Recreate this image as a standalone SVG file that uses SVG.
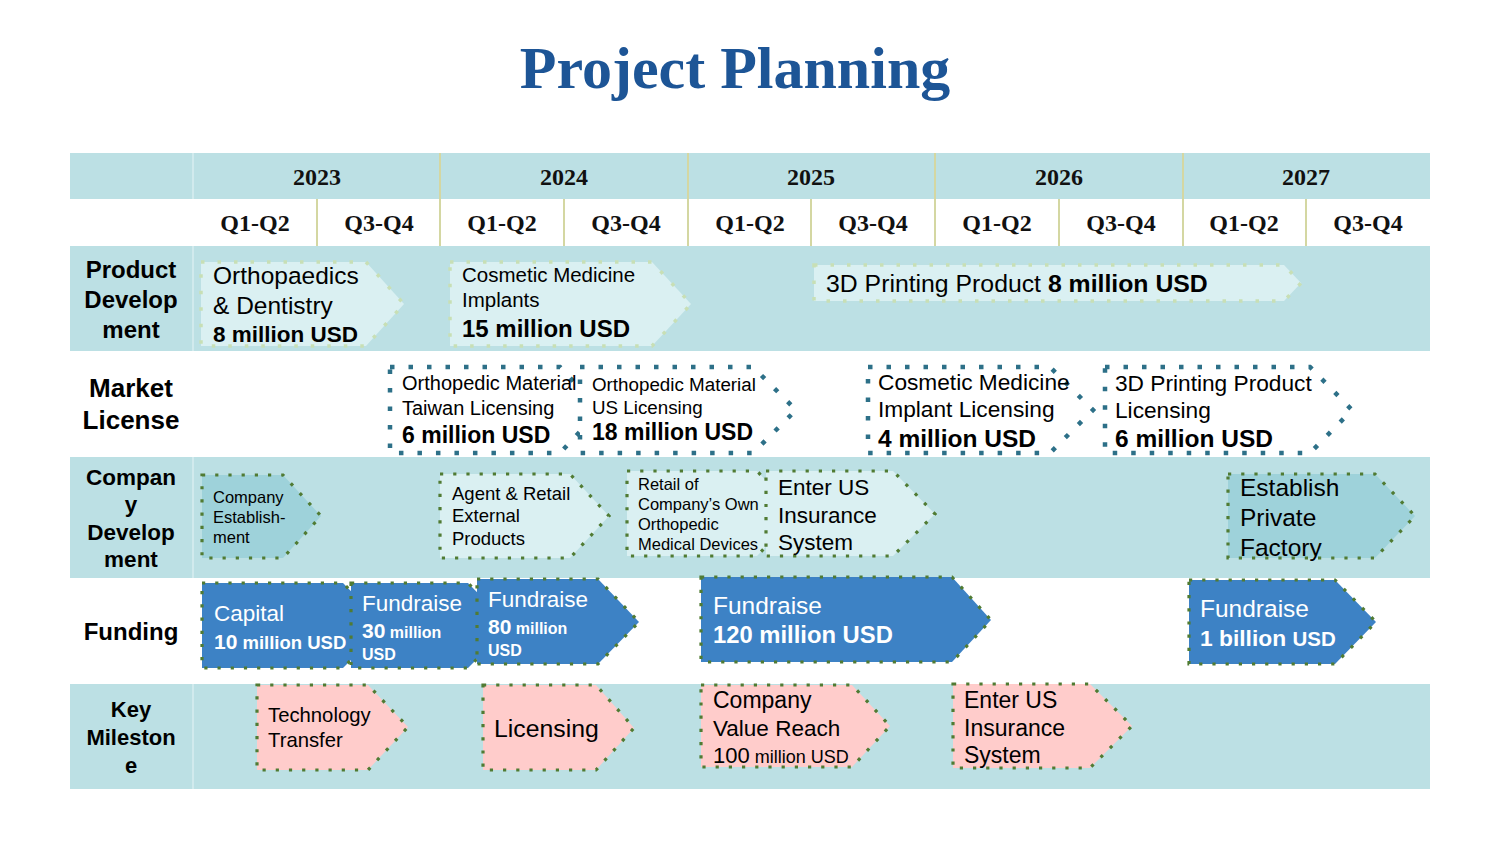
<svg xmlns="http://www.w3.org/2000/svg" width="1500" height="844" viewBox="0 0 1500 844">
  <style>
    .title { font-family: "Liberation Serif", "Times New Roman", serif; font-weight: bold; font-size: 60px; fill: #1D5596; }
    .hdr { font-family: "Liberation Serif", "Times New Roman", serif; font-weight: bold; font-size: 24px; fill: #111; }
    .lbl { font-family: "Liberation Sans", Arial, sans-serif; font-weight: bold; fill: #000; }
    .t { font-family: "Liberation Sans", Arial, sans-serif; fill: #000; }
    .w { font-family: "Liberation Sans", Arial, sans-serif; fill: #fff; }
    .b { font-weight: bold; }
    .band { fill: #BCE0E4; }
    .vdiv { stroke: #D4D7A2; stroke-width: 2; }
    .coldiv { stroke: #D8EEF0; stroke-width: 1.5; }
    .pd { fill: #DAF0F2; stroke: #C8DFB5; stroke-width: 3.5; stroke-dasharray: 3.5 13; }
    .ml { fill: #FFFFFF; stroke: #2D7088; stroke-width: 4.5; stroke-dasharray: 4.5 14; }
    .cdl { fill: #DAF0F2; stroke: #507B33; stroke-width: 3.2; stroke-dasharray: 3.2 10; }
    .cdd { fill: #9ED2DA; stroke: #507B33; stroke-width: 3.2; stroke-dasharray: 3.2 10; }
    .fd { fill: #3D82C5; stroke: #507B33; stroke-width: 3.2; stroke-dasharray: 3.2 10; }
    .km { fill: #FFCCCB; stroke: #507B33; stroke-width: 3.2; stroke-dasharray: 3.2 10; }
  </style>

  <rect x="0" y="0" width="1500" height="844" fill="#FFFFFF"/>

  <text class="title" x="735" y="88" text-anchor="middle">Project Planning</text>

  <!-- table grid -->
  <g id="grid">
    <rect class="band" x="70" y="153" width="1360" height="46"/>
    <rect class="band" x="70" y="246" width="1360" height="105"/>
    <rect class="band" x="70" y="457" width="1360" height="121"/>
    <rect class="band" x="70" y="684" width="1360" height="105"/>
    <line class="coldiv" x1="193" y1="153" x2="193" y2="199"/>
    <line class="coldiv" x1="193" y1="246" x2="193" y2="351"/>
    <line class="coldiv" x1="193" y1="457" x2="193" y2="578"/>
    <line class="coldiv" x1="193" y1="684" x2="193" y2="789"/>
    <line class="vdiv" x1="440" y1="153" x2="440" y2="246"/>
    <line class="vdiv" x1="688" y1="153" x2="688" y2="246"/>
    <line class="vdiv" x1="935" y1="153" x2="935" y2="246"/>
    <line class="vdiv" x1="1183" y1="153" x2="1183" y2="246"/>
    <line class="vdiv" x1="317" y1="199" x2="317" y2="246"/>
    <line class="vdiv" x1="564" y1="199" x2="564" y2="246"/>
    <line class="vdiv" x1="811" y1="199" x2="811" y2="246"/>
    <line class="vdiv" x1="1059" y1="199" x2="1059" y2="246"/>
    <line class="vdiv" x1="1306" y1="199" x2="1306" y2="246"/>
  </g>

  <g id="years">
    <text class="hdr" x="317" y="185" text-anchor="middle">2023</text>
    <text class="hdr" x="564" y="185" text-anchor="middle">2024</text>
    <text class="hdr" x="811" y="185" text-anchor="middle">2025</text>
    <text class="hdr" x="1059" y="185" text-anchor="middle">2026</text>
    <text class="hdr" x="1306" y="185" text-anchor="middle">2027</text>
  </g>
  <g id="halves">
    <text class="hdr" x="255" y="231" text-anchor="middle">Q1-Q2</text>
    <text class="hdr" x="379" y="231" text-anchor="middle">Q3-Q4</text>
    <text class="hdr" x="502" y="231" text-anchor="middle">Q1-Q2</text>
    <text class="hdr" x="626" y="231" text-anchor="middle">Q3-Q4</text>
    <text class="hdr" x="750" y="231" text-anchor="middle">Q1-Q2</text>
    <text class="hdr" x="873" y="231" text-anchor="middle">Q3-Q4</text>
    <text class="hdr" x="997" y="231" text-anchor="middle">Q1-Q2</text>
    <text class="hdr" x="1121" y="231" text-anchor="middle">Q3-Q4</text>
    <text class="hdr" x="1244" y="231" text-anchor="middle">Q1-Q2</text>
    <text class="hdr" x="1368" y="231" text-anchor="middle">Q3-Q4</text>
  </g>

  <!-- row labels -->
  <g id="row-labels" text-anchor="middle">
    <text class="lbl" font-size="24" x="131" y="278">Product</text>
    <text class="lbl" font-size="24" x="131" y="308">Develop</text>
    <text class="lbl" font-size="24" x="131" y="338">ment</text>
    <text class="lbl" font-size="26" x="131" y="397">Market</text>
    <text class="lbl" font-size="26" x="131" y="429">License</text>
    <text class="lbl" font-size="22.5" x="131" y="485">Compan</text>
    <text class="lbl" font-size="22.5" x="131" y="512">y</text>
    <text class="lbl" font-size="22.5" x="131" y="540">Develop</text>
    <text class="lbl" font-size="22.5" x="131" y="567">ment</text>
    <text class="lbl" font-size="24" x="131" y="640">Funding</text>
    <text class="lbl" font-size="22" x="131" y="717">Key</text>
    <text class="lbl" font-size="22" x="131" y="745">Mileston</text>
    <text class="lbl" font-size="22" x="131" y="773">e</text>
  </g>

  <!-- Product development -->
  <g id="pd-ortho">
    <path class="pd" d="M201,262 H366 L404,304 L366,346 H201 Z"/>
    <text class="t" font-size="24.5" x="213" y="284">Orthopaedics</text>
    <text class="t" font-size="24.5" x="213" y="314">&amp; Dentistry</text>
    <text class="t b" font-size="22.5" x="213" y="342">8 million USD</text>
  </g>
  <g id="pd-cosmetic">
    <path class="pd" d="M450,262 H652 L691,304 L652,346 H450 Z"/>
    <text class="t" font-size="20.5" x="462" y="282">Cosmetic Medicine</text>
    <text class="t" font-size="20.5" x="462" y="307">Implants</text>
    <text class="t b" font-size="24" x="462" y="337">15 million USD</text>
  </g>
  <g id="pd-3d">
    <path class="pd" d="M814,265 H1284 L1301,283 L1284,301 H814 Z"/>
    <text class="t" font-size="24.8" x="826" y="292">3D Printing Product <tspan class="b">8 million USD</tspan></text>
  </g>

  <!-- Market license -->
  <g id="ml-tw">
    <path class="ml" d="M390,367 H560 L600,410 L560,453 H390 Z"/>
    <text class="t" font-size="20" x="402" y="390">Orthopedic Material</text>
    <text class="t" font-size="20" x="402" y="415">Taiwan Licensing</text>
    <text class="t b" font-size="23" x="402" y="443">6 million USD</text>
  </g>
  <g id="ml-us">
    <path class="ml" d="M580,367 H753 L796,410 L753,453 H580 Z"/>
    <text class="t" font-size="18.8" x="592" y="391">Orthopedic Material</text>
    <text class="t" font-size="18.8" x="592" y="414">US Licensing</text>
    <text class="t b" font-size="23" x="592" y="440">18 million USD</text>
  </g>
  <g id="ml-cosmetic">
    <path class="ml" d="M868,367 H1050 L1093,410 L1050,453 H868 Z"/>
    <text class="t" font-size="22.7" x="878" y="390">Cosmetic Medicine</text>
    <text class="t" font-size="22.7" x="878" y="417">Implant Licensing</text>
    <text class="t b" font-size="24.5" x="878" y="447">4 million USD</text>
  </g>
  <g id="ml-3d">
    <path class="ml" d="M1105,367 H1310 L1352,410 L1310,453 H1105 Z"/>
    <text class="t" font-size="22.7" x="1115" y="391">3D Printing Product</text>
    <text class="t" font-size="22.7" x="1115" y="418">Licensing</text>
    <text class="t b" font-size="24.5" x="1115" y="447">6 million USD</text>
  </g>

  <!-- Company development -->
  <g id="cd-establish">
    <path class="cdd" d="M202,475 H283 L321,516 L283,558 H202 Z"/>
    <text class="t" font-size="16.5" x="213" y="503">Company</text>
    <text class="t" font-size="16.5" x="213" y="523">Establish-</text>
    <text class="t" font-size="16.5" x="213" y="543">ment</text>
  </g>
  <g id="cd-agent">
    <path class="cdl" d="M440,474 H570 L609,516 L570,558 H440 Z"/>
    <text class="t" font-size="18.5" x="452" y="500">Agent &amp; Retail</text>
    <text class="t" font-size="18.5" x="452" y="522">External</text>
    <text class="t" font-size="18.5" x="452" y="545">Products</text>
  </g>
  <g id="cd-retail">
    <path class="cdl" d="M627,471 H757 L797,514 L757,556 H627 Z"/>
    <text class="t" font-size="16.5" x="638" y="490">Retail of</text>
    <text class="t" font-size="16.5" x="638" y="510">Company’s Own</text>
    <text class="t" font-size="16.5" x="638" y="530">Orthopedic</text>
    <text class="t" font-size="16.5" x="638" y="550">Medical Devices</text>
  </g>
  <g id="cd-insurance">
    <path class="cdl" d="M766,471 H893 L935,514 L893,556 H766 Z"/>
    <text class="t" font-size="22.5" x="778" y="495">Enter US</text>
    <text class="t" font-size="22.5" x="778" y="523">Insurance</text>
    <text class="t" font-size="22.5" x="778" y="550">System</text>
  </g>
  <g id="cd-factory">
    <path class="cdd" d="M1228,474 H1375 L1415,516 L1375,558 H1228 Z"/>
    <text class="t" font-size="24.5" x="1240" y="496">Establish</text>
    <text class="t" font-size="24.5" x="1240" y="526">Private</text>
    <text class="t" font-size="24.5" x="1240" y="556">Factory</text>
  </g>

  <!-- Funding -->
  <g id="fd-capital">
    <path class="fd" d="M202,583 H343 L385,626 L343,668 H202 Z"/>
    <text class="w" font-size="22.5" x="214" y="621">Capital</text>
    <text class="w b" font-size="21" x="214" y="649">10<tspan font-size="18.5"> million USD</tspan></text>
  </g>
  <g id="fd-30">
    <path class="fd" d="M351,583 H468 L510,626 L468,668 H351 Z"/>
    <text class="w" font-size="22.5" x="362" y="611">Fundraise</text>
    <text class="w b" font-size="21" x="362" y="638">30<tspan font-size="16"> million</tspan></text>
    <text class="w b" font-size="16" x="362" y="660">USD</text>
  </g>
  <g id="fd-80">
    <path class="fd" d="M477,579 H598 L639,622 L598,664 H477 Z"/>
    <text class="w" font-size="22.5" x="488" y="607">Fundraise</text>
    <text class="w b" font-size="21" x="488" y="634">80<tspan font-size="16"> million</tspan></text>
    <text class="w b" font-size="16" x="488" y="656">USD</text>
  </g>
  <g id="fd-120">
    <path class="fd" d="M701,577 H952 L991,620 L952,662 H701 Z"/>
    <text class="w" font-size="24.5" x="713" y="614">Fundraise</text>
    <text class="w b" font-size="23.8" x="713" y="643">120 million USD</text>
  </g>
  <g id="fd-1b">
    <path class="fd" d="M1189,580 H1335 L1376,622 L1335,664 H1189 Z"/>
    <text class="w" font-size="24.5" x="1200" y="617">Fundraise</text>
    <text class="w b" font-size="22.8" x="1200" y="646">1 billion <tspan font-size="20.5">USD</tspan></text>
  </g>

  <!-- Key milestones -->
  <g id="km-transfer">
    <path class="km" d="M257,685 H368 L408,727 L368,770 H257 Z"/>
    <text class="t" font-size="20.3" x="268" y="722">Technology</text>
    <text class="t" font-size="20.3" x="268" y="747">Transfer</text>
  </g>
  <g id="km-licensing">
    <path class="km" d="M483,685 H596 L634,728 L596,770 H483 Z"/>
    <text class="t" font-size="24.8" x="494" y="737">Licensing</text>
  </g>
  <g id="km-value">
    <path class="km" d="M701,685 H852 L890,726 L852,767 H701 Z"/>
    <text class="t" font-size="23" x="713" y="708">Company</text>
    <text class="t" font-size="22.5" x="713" y="736">Value Reach</text>
    <text class="t" font-size="22" x="713" y="763">100<tspan font-size="18"> million USD</tspan></text>
  </g>
  <g id="km-insurance">
    <path class="km" d="M953,684 H1090 L1132,726 L1090,768 H953 Z"/>
    <text class="t" font-size="23" x="964" y="708">Enter US</text>
    <text class="t" font-size="23" x="964" y="736">Insurance</text>
    <text class="t" font-size="23" x="964" y="763">System</text>
  </g>

  <!-- no connectors in this chart -->
  <g id="connectors"/>
</svg>
